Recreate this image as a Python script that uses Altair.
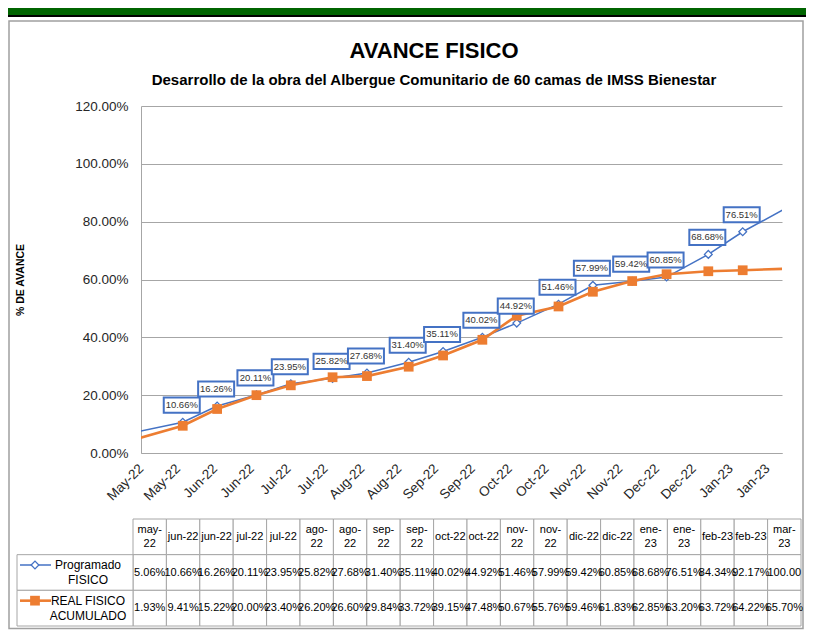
import altair as alt
import pandas as pd
from datetime import date, timedelta

# ---------------- data ----------------
fechas = ["2022-05-01", "2022-06-01", "2022-06-15", "2022-07-01", "2022-07-15",
          "2022-08-01", "2022-08-15", "2022-09-01", "2022-09-15", "2022-10-01",
          "2022-10-15", "2022-11-01", "2022-11-15", "2022-12-01", "2022-12-15",
          "2023-01-01", "2023-01-15", "2023-02-01", "2023-02-15", "2023-03-01"]
encabezados = ["may-22", "jun-22", "jun-22", "jul-22", "jul-22", "ago-22", "ago-22",
               "sep-22", "sep-22", "oct-22", "oct-22", "nov-22", "nov-22", "dic-22",
               "dic-22", "ene-23", "ene-23", "feb-23", "feb-23", "mar-23"]
programado = [5.06, 10.66, 16.26, 20.11, 23.95, 25.82, 27.68, 31.40, 35.11, 40.02,
              44.92, 51.46, 57.99, 59.42, 60.85, 68.68, 76.51, 84.34, 92.17, 100.00]
real = [1.93, 9.41, 15.22, 20.00, 23.40, 26.20, 26.60, 29.84, 33.72, 39.15,
        47.48, 50.67, 55.76, 59.46, 61.83, 62.85, 63.20, 63.72, 64.22, 65.70]
series = ["Programado FISICO", "REAL FISICO ACUMULADO"]
leyenda_texto = ["Programado\nFISICO", "REAL FISICO\nACUMULADO"]
y_ticks = [0, 20, 40, 60, 80, 100, 120]
eje_x_inicio = "2022-05-15"
eje_x_fin = "2023-01-31"
eje_x_paso_dias = 15
meses_en_dos_lineas = ["may", "ago", "sep", "nov", "ene", "mar"]

titulo = "AVANCE FISICO"
subtitulo = "Desarrollo de la obra del Albergue Comunitario de 60 camas de IMSS Bienestar"
titulo_eje_y = "% DE AVANCE"

# ---------------- style ----------------
AZUL = "#4472C4"
NARANJA = "#ED7D31"
GRIS = "#a6a6a6"
FONT = "Liberation Sans"
W, H = 641, 347
LH = 14  # line height in table cells


def dt(d):
    return alt.DateTime(year=d.year, month=d.month, date=d.day, utc=True)


inicio = date.fromisoformat(eje_x_inicio)
fin = date.fromisoformat(eje_x_fin)
ticks = []
d = inicio
while d <= fin:
    ticks.append(d)
    d += timedelta(days=eje_x_paso_dias)

df = pd.DataFrame({"fecha": fechas, "programado": programado, "real": real})
df["visible"] = [inicio <= date.fromisoformat(f) <= fin for f in fechas]
df["etiqueta"] = [f"{v:.2f}%" for v in programado]

x_axis = alt.Axis(values=[dt(t) for t in ticks],
                  labelExpr="utcFormat(datum.value, '%b-%y')",
                  labelAngle=315, labelAlign="right", labelBaseline="middle",
                  labelPadding=13, ticks=False, grid=False, domainColor=GRIS,
                  labelFont=FONT, labelFontSize=13.5, labelColor="#262626",
                  labelOverlap=False, title=None)
y_axis = alt.Axis(values=y_ticks, labelExpr="format(datum.value, '.2f') + '%'",
                  ticks=False, grid=True, gridColor=GRIS, domainColor=GRIS,
                  labelFont=FONT, labelFontSize=13.5, labelColor="#262626",
                  labelPadding=13, title=titulo_eje_y, titleFont=FONT,
                  titleFontSize=10.5, titleFontWeight="bold", titleColor="black",
                  titleX=-121, titleY=H / 2, titleAngle=270, titleAlign="center",
                  titleBaseline="middle")
x_scale = alt.Scale(type="utc", domain=[dt(inicio), dt(fin)])
y_scale = alt.Scale(domain=[0, 120], nice=False, zero=True)


def X():
    return alt.X("fecha:T", scale=x_scale, axis=x_axis, title=None)


def Y(field):
    return alt.Y(f"{field}:Q", scale=y_scale, axis=y_axis, title=titulo_eje_y)


base = alt.Chart(df)
linea_azul = base.mark_line(clip=True, color=AZUL, strokeWidth=1.5).encode(x=X(), y=Y("programado"))
linea_naranja = base.mark_line(clip=True, color=NARANJA, strokeWidth=2.6).encode(x=X(), y=Y("real"))
puntos_azul = base.transform_filter("datum.visible").mark_point(
    shape="diamond", filled=True, fill="white", stroke=AZUL, strokeWidth=1.3,
    size=60, opacity=1).encode(x=X(), y=Y("programado"))
puntos_naranja = base.transform_filter("datum.visible").mark_point(
    shape="square", filled=True, color=NARANJA, size=95, opacity=1).encode(x=X(), y=Y("real"))
cajas = base.transform_filter("datum.visible").mark_point(
    shape="M-1,-0.42L1,-0.42L1,0.42L-1,0.42Z", filled=True, fill="white",
    stroke=AZUL, strokeWidth=2, size=36 * 36, opacity=1, yOffset=-17, xOffset=-1
).encode(x=X(), y=Y("programado"))
textos = base.transform_filter("datum.visible").mark_text(
    font=FONT, fontSize=9.5, color="#333333", dy=-17, dx=-1
).encode(x=X(), y=Y("programado"), text="etiqueta:N")

principal = alt.layer(linea_azul, linea_naranja, puntos_azul, puntos_naranja, cajas, textos)

# ---------------- data table ----------------
filas = []
for i, (enc, p, r) in enumerate(zip(encabezados, programado, real)):
    mes = enc.split("-")[0]
    dos = mes in meses_en_dos_lineas
    enc_txt = enc.replace("-", "-\n") if dos else enc
    for fila, txt in enumerate([enc_txt, f"{p:.2f}%", f"{r:.2f}%"]):
        filas.append({"c0": i, "c1": i + 1, "cm": i + 0.5,
                      "r0": fila, "r1": fila + 1, "rm": fila + 0.5, "texto": txt,
                      "lineas": 2 if (fila == 0 and dos) else 1})
tabla_df = pd.DataFrame(filas)

tx_scale = alt.Scale(domain=[0, len(encabezados)], range=[-8, 660], nice=False, zero=False)
ty_scale = alt.Scale(domain=[0, 3], range=[413, 520], nice=False, zero=False)

celdas = alt.Chart(tabla_df).mark_rect(fill="white", stroke=GRIS, strokeWidth=1).encode(
    x=alt.X("c0:Q", scale=tx_scale, axis=None), x2="c1:Q",
    y=alt.Y("r0:Q", scale=ty_scale, axis=None), y2="r1:Q")


def celda_txt(n):
    return alt.Chart(tabla_df).transform_filter(f"datum.lineas == {n}").mark_text(
        font=FONT, fontSize=11, color="black", lineBreak="\n", lineHeight=LH,
        limit=40, ellipsis="\u200b", dy=-(n - 1) * LH / 2).encode(
        x=alt.X("cm:Q", scale=tx_scale, axis=None),
        y=alt.Y("rm:Q", scale=ty_scale, axis=None), text="texto:N")


ley_df = pd.DataFrame({"serie": series, "texto": leyenda_texto,
                       "r0": [1, 2], "r1": [2, 3], "rm": [1.5, 2.5]})
ley_y = alt.Y("rm:Q", scale=ty_scale, axis=None)
ley_celdas = alt.Chart(ley_df).mark_rect(fill="white", stroke=GRIS, strokeWidth=1).encode(
    x=alt.value(-124), x2=alt.value(-8),
    y=alt.Y("r0:Q", scale=ty_scale, axis=None), y2="r1:Q")
ley_txt = alt.Chart(ley_df).mark_text(
    font=FONT, fontSize=12, color="black", lineBreak="\n", lineHeight=15, dy=-7.5).encode(
    x=alt.value(-53), y=ley_y, text="texto:N")
ley_lineas = alt.Chart(ley_df).mark_rule(yOffset=-7.5).encode(
    x=alt.value(-121), x2=alt.value(-90), y=ley_y,
    color=alt.Color("serie:N", scale=alt.Scale(domain=series, range=[AZUL, NARANJA]), legend=None),
    strokeWidth=alt.StrokeWidth("serie:N", scale=alt.Scale(domain=series, range=[1.5, 2.6]), legend=None))
ley_diamante = alt.Chart(ley_df).transform_filter(f"datum.serie == '{series[0]}'").mark_point(
    shape="diamond", filled=True, fill="white", stroke=AZUL, strokeWidth=1.3, size=60,
    opacity=1, yOffset=-7.5).encode(x=alt.value(-106), y=ley_y)
ley_cuadro = alt.Chart(ley_df).transform_filter(f"datum.serie == '{series[1]}'").mark_point(
    shape="square", filled=True, color=NARANJA, size=95, opacity=1, yOffset=-7.5
).encode(x=alt.value(-106), y=ley_y)

tabla = alt.layer(celdas, celda_txt(1), celda_txt(2), ley_celdas, ley_txt, ley_lineas,
                  ley_diamante, ley_cuadro)

# ---------------- decorations & titles ----------------
uno = pd.DataFrame({"k": [0]})
banda_verde = alt.Chart(uno).mark_rect(color="#006400").encode(
    x=alt.value(-133), x2=alt.value(665), y=alt.value(-98), y2=alt.value(-91))
banda_negra = alt.Chart(uno).mark_rect(color="black").encode(
    x=alt.value(-133), x2=alt.value(665), y=alt.value(-91), y2=alt.value(-89))
marco = alt.Chart(uno).mark_rect(fillOpacity=0, stroke="#a0a0a0", strokeWidth=1.5).encode(
    x=alt.value(-132), x2=alt.value(662), y=alt.value(-85), y2=alt.value(522.5))
t1 = alt.Chart(uno).mark_text(text=titulo, font=FONT, fontSize=22, fontWeight="bold",
                              color="black").encode(x=alt.value(293), y=alt.value(-55))
t2 = alt.Chart(uno).mark_text(text=subtitulo, font=FONT, fontSize=15, fontWeight="bold",
                              color="black").encode(x=alt.value(293), y=alt.value(-26))

chart = alt.layer(banda_verde, banda_negra, marco, principal, tabla, t1, t2).resolve_scale(
    x="independent", y="independent"
).properties(width=W, height=H, padding=0, background="white").configure_view(strokeWidth=0)

chart.save("out.html", embed_options={"renderer": "svg", "actions": False})
